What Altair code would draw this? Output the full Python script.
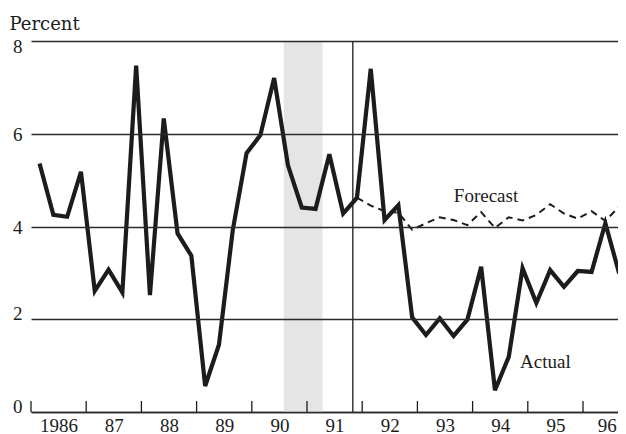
import altair as alt
import pandas as pd

# ---- data (quarterly, percent) ----
start_year = 1986
actual = [5.36, 4.25, 4.21, 5.18, 2.61, 3.07, 2.58, 7.47, 2.52, 6.33, 3.85, 3.37,
          0.56, 1.45, 3.92, 5.58, 5.97, 7.20, 5.32, 4.41, 4.38, 5.56, 4.28, 4.62,
          7.40, 4.14, 4.46, 2.04, 1.66, 2.02, 1.64, 1.99, 3.13, 0.47, 1.19, 3.10,
          2.35, 3.06, 2.70, 3.04, 3.02, 4.07, 2.99]
forecast_start = 23  # index of 1991:Q4
forecast = [4.62, 4.45, 4.33, 4.30, 3.93, 4.07, 4.20, 4.14, 4.03, 4.31, 3.97,
            4.20, 4.13, 4.25, 4.48, 4.28, 4.17, 4.33, 4.12, 4.43]
year_ticks = list(range(1986, 1997))
y_ticks = [0, 2, 4, 6, 8]
recession = [1990.58, 1991.28]
forecast_marker = 1991.83
label_text = ["Forecast", "Actual"]
label_x = [1993.66, 1994.86]
label_y = [4.52, 0.95]

W, H = 587, 371
PX_PER_YEAR = 55.2
Q_OFFSET = 0.155
SERIF = "Liberation Serif"
INK = "#1c1c1c"

t_actual = [start_year + i / 4 + Q_OFFSET for i in range(len(actual))]
t_fore = [start_year + (forecast_start + i) / 4 + Q_OFFSET for i in range(len(forecast))]

df_act = pd.DataFrame({"t": t_actual, "v": actual})
df_fc = pd.DataFrame({"t": t_fore, "v": forecast})
df_rec = pd.DataFrame({"t": [recession[0]], "t2": [recession[1]]})
df_years = pd.DataFrame({"t": year_ticks})
df_mark = pd.DataFrame({"t": [forecast_marker]})
df_lab = pd.DataFrame({"t": label_x, "v": label_y, "txt": label_text})

x_scale = alt.Scale(domain=[1986, 1986 + W / PX_PER_YEAR], nice=False, zero=False)
y_scale = alt.Scale(domain=[0, 8], nice=False, zero=False)

x_axis = alt.Axis(
    values=year_ticks,
    labelExpr="datum.value == 1986 ? '1986' : slice(toString(datum.value), 2)",
    labelOffset={"condition": [{"test": "datum.value == 1996", "value": 23.7}],
                 "value": PX_PER_YEAR / 2},
    ticks=False, grid=False,
    domainColor=INK, domainWidth=1.6,
    labelFont=SERIF, labelFontSize=19, labelColor=INK,
    labelPadding=4, labelFlush=False, labelOverlap=False,
    title=None,
)
y_axis = alt.Axis(
    values=y_ticks, grid=True, gridColor="#2a2a2a", gridWidth=1.3,
    domain=False, ticks=False, labelPadding=9,
    labelFont=SERIF, labelFontSize=19, labelColor=INK, labelBaseline="middle",
    labelOffset={"condition": [{"test": "datum.value == 8", "value": 5.5},
                               {"test": "datum.value <= 2", "value": -5.5}],
                 "value": 1},
    title="Percent", titleAngle=0, titleAlign="left", titleBaseline="alphabetic",
    titleX=-22, titleY=-11.5, titleFont="DejaVu Serif", titleFontSize=18,
    titleFontWeight="normal", titleColor=INK, zindex=1,
)

shade = alt.Chart(df_rec).mark_rect(color="#e5e5e5").encode(
    x=alt.X("t:Q", scale=x_scale, axis=x_axis), x2="t2:Q",
    y=alt.value(0), y2=alt.value(H),
)
fc_line = alt.Chart(df_fc).mark_line(color=INK, strokeWidth=2, strokeDash=[7, 5]).encode(
    x=alt.X("t:Q", scale=x_scale),
    y=alt.Y("v:Q", scale=y_scale, axis=y_axis),
)
act_line = alt.Chart(df_act).mark_line(color=INK, strokeWidth=4.2).encode(
    x=alt.X("t:Q", scale=x_scale),
    y=alt.Y("v:Q", scale=y_scale),
)
vrule = alt.Chart(df_mark).mark_rule(color=INK, strokeWidth=1.3).encode(
    x=alt.X("t:Q", scale=x_scale), y=alt.value(0), y2=alt.value(H),
)
ticks = alt.Chart(df_years).mark_rule(color=INK, strokeWidth=1.3).encode(
    x=alt.X("t:Q", scale=x_scale), y=alt.value(H - 11), y2=alt.value(H),
)
labels = alt.Chart(df_lab).mark_text(
    align="left", baseline="alphabetic", font=SERIF, fontSize=19, color=INK
).encode(
    x=alt.X("t:Q", scale=x_scale), y=alt.Y("v:Q", scale=y_scale), text="txt:N",
)

chart = alt.layer(shade, fc_line, act_line, vrule, ticks, labels).properties(
    width=W, height=H,
    autosize=alt.AutoSizeParams(type="none"),
    padding={"left": 23, "top": 33, "right": 0, "bottom": 22},
    background="white",
).configure_view(stroke=None)

chart.save("out.html", embed_options={"renderer": "svg", "actions": False})
